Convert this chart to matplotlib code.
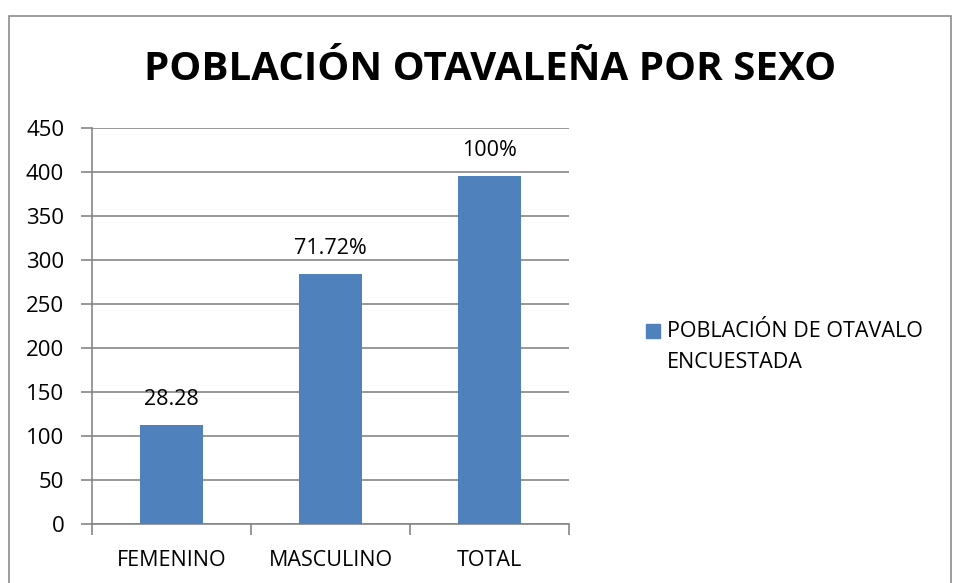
import numpy as np
import matplotlib.pyplot as plt
from matplotlib.patches import Rectangle

plt.rcParams['font.family'] = ['Open Sans', 'DejaVu Sans']

# data
categories = ['FEMENINO', 'MASCULINO', 'TOTAL']
values = [112, 284, 396]
labels = ['28.28', '71.72%', '100%']
series_name = 'POBLACIÓN DE OTAVALO\nENCUESTADA'
yticks = np.arange(0, 451, 50)

BAR_BLUE = '#4f81bd'
GRID_GRAY = '#868686'

fig = plt.figure(figsize=(9.54, 5.83), dpi=100)
fig.patch.set_facecolor('white')

# outer chart border (bottom edge falls outside the image)
fig.add_artist(Rectangle((9 / 954, -10 / 583), 942 / 954, 577 / 583,
                         transform=fig.transFigure, fill=False,
                         edgecolor='#8c8c8c', linewidth=1.2))

ax = fig.add_axes([92 / 954, 1 - 524 / 583, 477 / 954, 396 / 583])

x = np.arange(len(categories))
ax.bar(x, values, width=0.4, color=BAR_BLUE, zorder=3)

for xi, v, lab in zip(x, values, labels):
    ax.text(xi, v + 29, lab, ha='center', va='center', fontsize=15.5, color='black')

ax.set_xlim(-0.5, 2.5)
ax.set_ylim(0, 450)
ax.set_yticks(yticks)
ax.set_yticklabels([str(t) for t in yticks], fontsize=16)
ax.yaxis.grid(True, color=GRID_GRAY, linewidth=1.2, zorder=0)

# category labels centered, tick marks at boundaries
ax.set_xticks(x)
ax.set_xticklabels(categories, fontsize=15.5)
ax.tick_params(axis='x', length=0, pad=19)
ax.set_xticks([-0.5, 0.5, 1.5, 2.5], minor=True)
ax.tick_params(axis='x', which='minor', length=8, width=1.2, color=GRID_GRAY)
ax.tick_params(axis='y', length=8, width=1.2, color=GRID_GRAY, pad=12)

for s in ['top', 'right']:
    ax.spines[s].set_visible(False)
for s in ['left', 'bottom']:
    ax.spines[s].set_color(GRID_GRAY)
    ax.spines[s].set_linewidth(1.2)

fig.text(490 / 954, 1 - 70 / 583, 'POBLACIÓN OTAVALEÑA POR SEXO',
         ha='center', va='center', fontsize=29, fontweight='bold')

# legend
fig.add_artist(Rectangle((646 / 954, 1 - 338 / 583), 14 / 954, 14 / 583,
                         transform=fig.transFigure, color=BAR_BLUE))
fig.text(667 / 954, 1 - 347 / 583, series_name, ha='left', va='center',
         fontsize=15.5, linespacing=1.6)

fig.savefig('out.png', dpi=100, facecolor='white')
